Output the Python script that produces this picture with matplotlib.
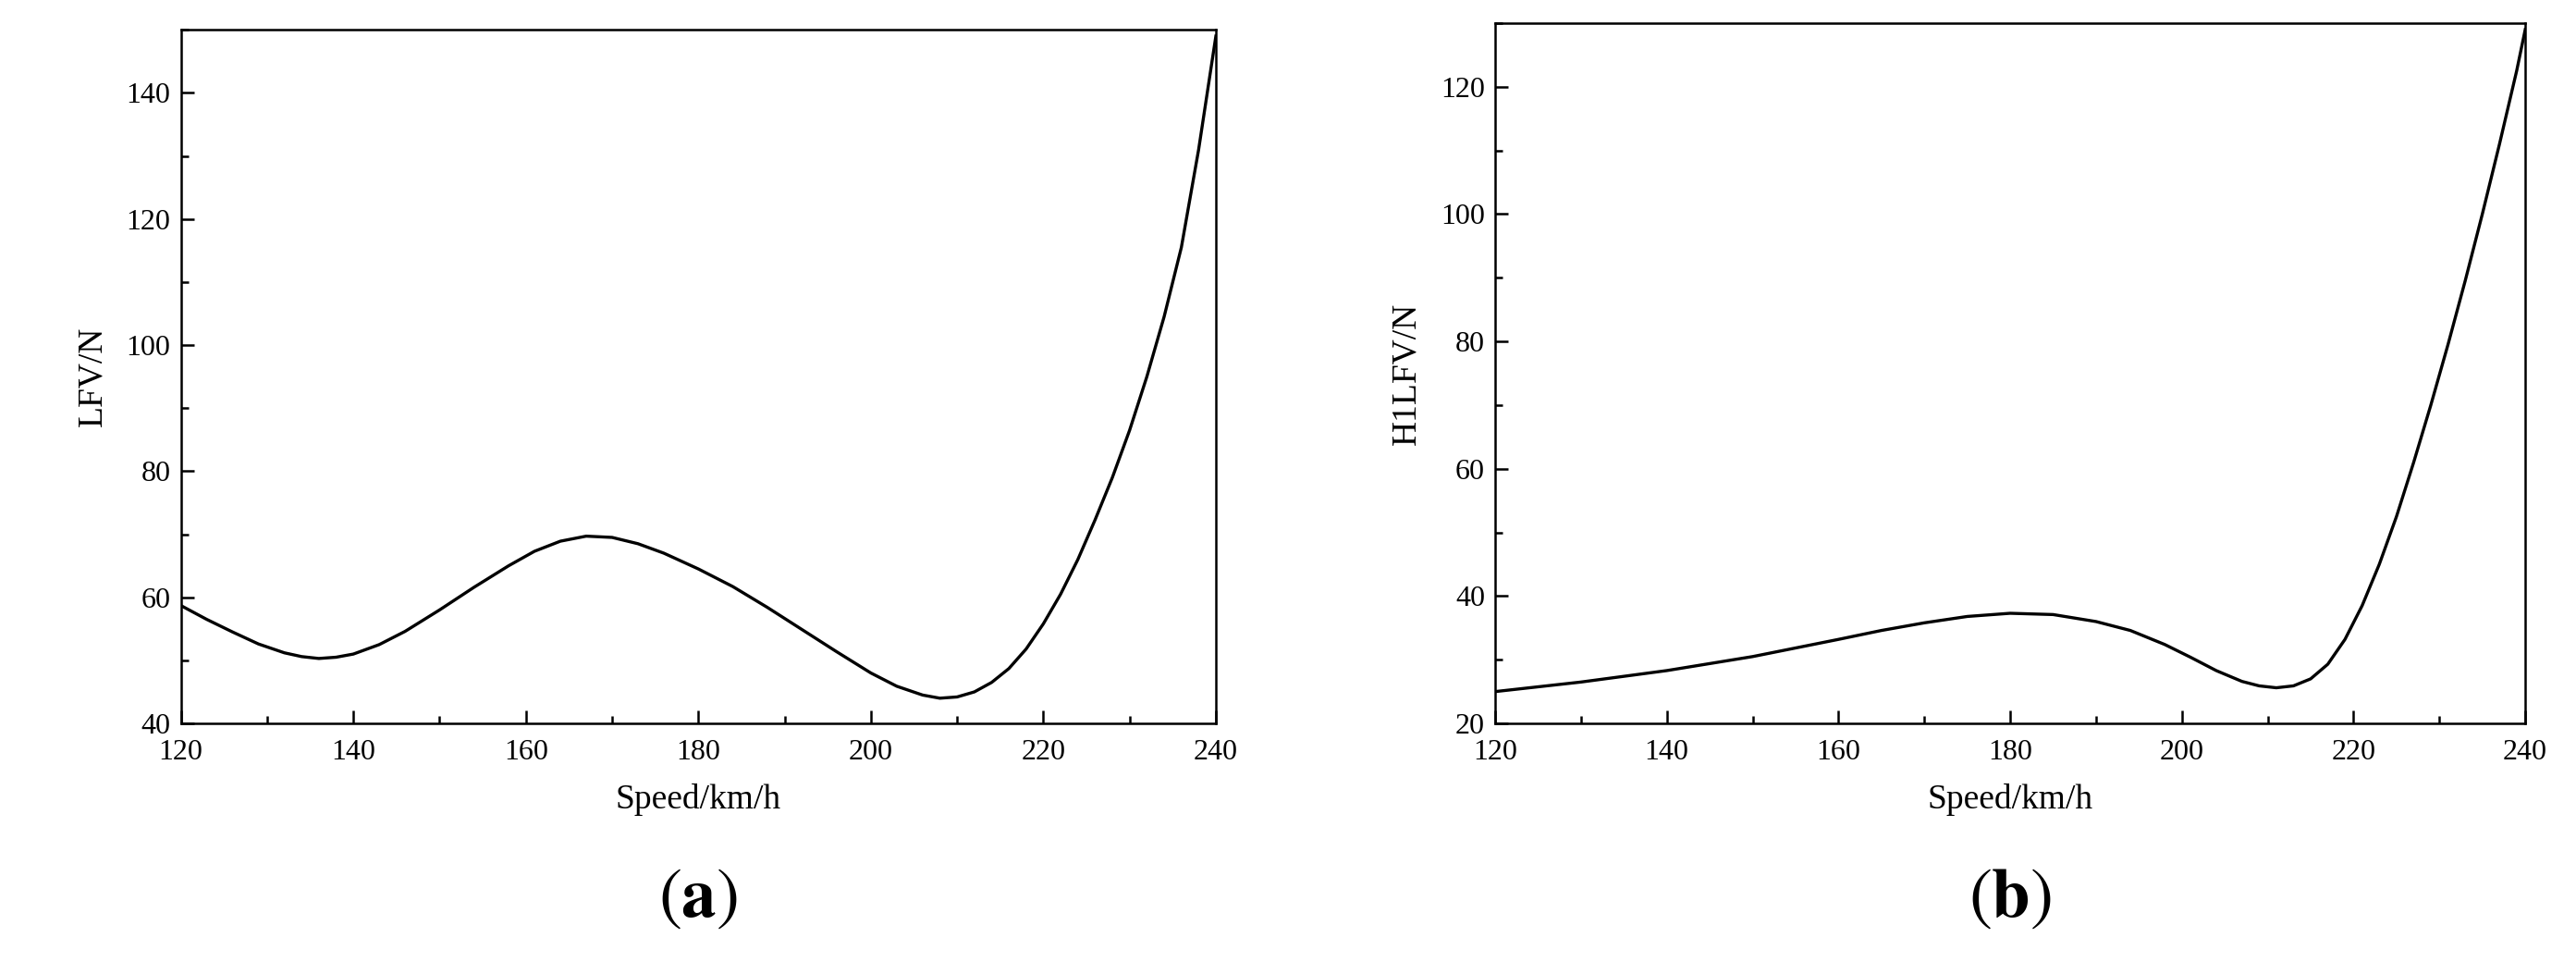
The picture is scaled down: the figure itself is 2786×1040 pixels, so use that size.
import numpy as np
import matplotlib.pyplot as plt
from matplotlib.ticker import MultipleLocator

plt.rcParams['font.family'] = ['Liberation Serif', 'DejaVu Serif']
plt.rcParams['mathtext.fontset'] = 'stix'

# Panel (a): LFV vs speed
speed_a = [120, 123, 126, 129, 132, 134, 136, 138, 140, 143, 146, 150, 154, 158, 161, 164, 167,
           170, 173, 176, 180, 184, 188, 192, 196, 200, 203, 206, 208, 210, 212, 214, 216, 218,
           220, 222, 224, 226, 228, 230, 232, 234, 236, 238, 240]
lfv = [58.7, 56.5, 54.5, 52.6, 51.2, 50.6, 50.3, 50.5, 51.0, 52.5, 54.6, 58.0, 61.6, 65.0, 67.3,
       68.9, 69.7, 69.5, 68.5, 67.0, 64.5, 61.7, 58.4, 54.9, 51.4, 48.0, 45.9, 44.5, 44.0, 44.2,
       45.0, 46.5, 48.7, 51.8, 55.8, 60.5, 66.0, 72.3, 79.0, 86.5, 95.0, 104.5, 115.5, 131.0, 149.0]

# Panel (b): H1LFV vs speed
speed_b = [120, 130, 140, 150, 160, 165, 170, 175, 180, 185, 190, 194, 198, 201, 204, 207, 209,
           211, 213, 215, 217, 219, 221, 223, 225, 227, 229, 231, 233, 235, 237, 239, 240]
h1lfv = [25.0, 26.5, 28.3, 30.5, 33.2, 34.6, 35.8, 36.8, 37.3, 37.1, 36.0, 34.6, 32.4, 30.4,
         28.3, 26.6, 25.9, 25.6, 25.9, 27.0, 29.3, 33.2, 38.5, 45.0, 52.5, 61.0, 70.0, 79.5,
         89.5, 100.0, 111.0, 122.5, 129.0]

fig = plt.figure(figsize=(27.86, 10.40), dpi=100)
ax1 = fig.add_axes([0.0702, 0.248, 0.4018, 0.721])
ax2 = fig.add_axes([0.5804, 0.248, 0.3999, 0.728])

panels = [
    (ax1, speed_a, lfv, (40, 150), 'LFV/N', r'$(\mathbf{a})$'),
    (ax2, speed_b, h1lfv, (20, 130), 'H1LFV/N', r'$(\mathbf{b})$'),
]
for ax, x, y, ylim, ylabel, tag in panels:
    ax.plot(x, y, color='black', lw=2.4)
    ax.set_xlim(120, 240)
    ax.set_ylim(*ylim)
    ax.xaxis.set_major_locator(MultipleLocator(20))
    ax.xaxis.set_minor_locator(MultipleLocator(10))
    ax.yaxis.set_major_locator(MultipleLocator(20))
    ax.yaxis.set_minor_locator(MultipleLocator(10))
    ax.tick_params(which='both', direction='in', labelsize=23, width=1.8)
    ax.tick_params(axis='x', pad=12)
    ax.tick_params(axis='y', pad=8)
    ax.tick_params(which='major', length=10)
    ax.tick_params(which='minor', length=6)
    for s in ax.spines.values():
        s.set_linewidth(1.8)
    ax.set_xlabel('Speed/km/h', fontsize=27, labelpad=14)
    ax.set_ylabel(ylabel, fontsize=27, labelpad=14)
    pos = ax.get_position()
    fig.text(pos.x0 + pos.width / 2, 0.065, tag, fontsize=54, ha='center', va='center')

fig.savefig('out.png', dpi=100)
